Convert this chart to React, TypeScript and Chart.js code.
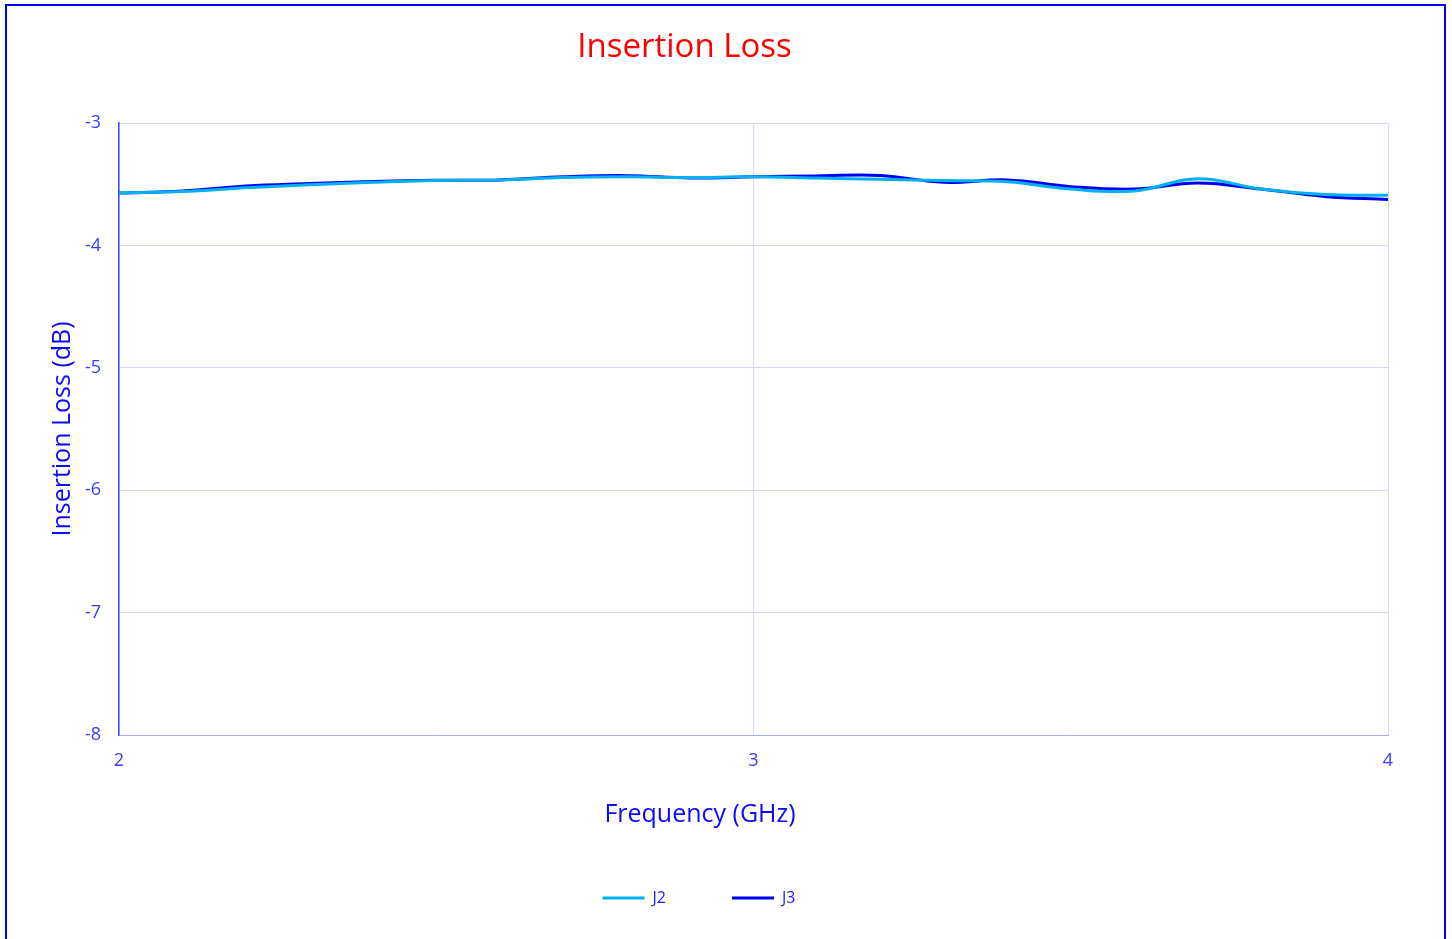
import React, { useEffect, useRef } from "react";
import { Chart, registerables } from "chart.js";

Chart.register(...registerables);

const chartTitle = "Insertion Loss";
const xAxisTitle = "Frequency (GHz)";
const yAxisTitle = "Insertion Loss (dB)";
const seriesNames = ["J2", "J3"];

const frequencies = [2.0, 2.1, 2.2, 2.3, 2.4, 2.5, 2.6, 2.7, 2.8, 2.9, 3.0, 3.1, 3.2, 3.3, 3.4, 3.5, 3.6, 3.7, 3.8, 3.9, 4.0];
const j2Values = [-3.572, -3.56, -3.53, -3.505, -3.485, -3.47, -3.465, -3.445, -3.44, -3.445, -3.44, -3.45, -3.46, -3.47, -3.48, -3.54, -3.555, -3.455, -3.54, -3.585, -3.59];
const j3Values = [-3.572, -3.555, -3.515, -3.495, -3.478, -3.468, -3.465, -3.44, -3.43, -3.45, -3.44, -3.432, -3.428, -3.485, -3.465, -3.52, -3.54, -3.49, -3.54, -3.6, -3.625];

const xMin = 2;
const xMax = 4;
const yMin = -8;
const yMax = -3;

const FONT = "'Open Sans', sans-serif";

const textPlugin = {
  id: "freeTexts",
  afterDraw(chart: any) {
    const ctx = chart.ctx;
    ctx.save();
    ctx.textAlign = "center";
    ctx.textBaseline = "alphabetic";
    ctx.fillStyle = "#ff0000";
    ctx.font = `33px ${FONT}`;
    ctx.fillText(chartTitle, 684.5, 57);
    ctx.fillStyle = "#0a0aff";
    ctx.font = `25px ${FONT}`;
    ctx.fillText(xAxisTitle, 700, 822);
    ctx.restore();
  },
};

export default function App() {
  const canvasRef = useRef<HTMLCanvasElement | null>(null);

  useEffect(() => {
    document.body.style.margin = "0";
    document.body.style.overflow = "hidden";
    const canvas = canvasRef.current;
    if (!canvas) return;
    const chart = new Chart(canvas, {
      type: "line",
      data: {
        datasets: [
          {
            label: seriesNames[0],
            data: frequencies.map((f, i) => ({ x: f, y: j2Values[i] })),
            borderColor: "#00b0f0",
            backgroundColor: "#00b0f0",
            borderWidth: 3,
            pointRadius: 0,
            tension: 0.4,
            fill: false,
          },
          {
            label: seriesNames[1],
            data: frequencies.map((f, i) => ({ x: f, y: j3Values[i] })),
            borderColor: "#0000f0",
            backgroundColor: "#0000f0",
            borderWidth: 3,
            pointRadius: 0,
            tension: 0.4,
            fill: false,
          },
        ],
      },
      options: {
        animation: false,
        responsive: false,
        maintainAspectRatio: false,
        layout: { padding: { top: 123, left: 10, right: 64, bottom: 23 } },
        scales: {
          x: {
            type: "linear",
            min: xMin,
            max: xMax,
            ticks: {
              stepSize: 1,
              color: "#3a3aff",
              font: { family: FONT, size: 18 },
              padding: 15,
              maxRotation: 0,
            },
            grid: { color: "#d6d6ff", drawTicks: false, lineWidth: 1 },
            border: { color: "#a8a8ff", width: 1 },
            afterFit: (scale: any) => {
              scale.height = 89;
            },
          },
          y: {
            type: "linear",
            min: yMin,
            max: yMax,
            ticks: {
              stepSize: 1,
              color: "#3a3aff",
              font: { family: FONT, size: 18 },
              padding: 18,
            },
            grid: { color: "#d6d6ff", drawTicks: false, lineWidth: 1 },
            border: { color: "#4848ff", width: 1.5 },
            title: {
              display: true,
              text: yAxisTitle,
              color: "#0a0aff",
              font: { family: FONT, size: 25 },
              padding: { top: 38, bottom: 0 },
            },
            afterFit: (scale: any) => {
              scale.width = 109;
            },
          },
        },
        plugins: {
          title: { display: false },
          tooltip: { enabled: false },
          legend: {
            display: true,
            position: "bottom",
            labels: {
              usePointStyle: true,
              pointStyle: "line",
              pointStyleWidth: 42,
              padding: 66,
              color: "#2020ff",
              font: { family: FONT, size: 16 },
            },
          },
        },
      },
      plugins: [textPlugin],
    });
    return () => chart.destroy();
  }, []);

  return (
    <div style={{ position: "fixed", left: 0, top: 0, width: 1452, height: 939, overflow: "hidden", background: "#ffffff" }}>
      <div
        style={{
          position: "absolute",
          left: 5,
          top: 4,
          width: 1441,
          height: 1000,
          border: "2px solid #0000ff",
          boxSizing: "border-box",
        }}
      />
      <canvas
        ref={canvasRef}
        width={1452}
        height={939}
        style={{ position: "absolute", left: 0, top: 0, width: 1452, height: 939 }}
      />
    </div>
  );
}
